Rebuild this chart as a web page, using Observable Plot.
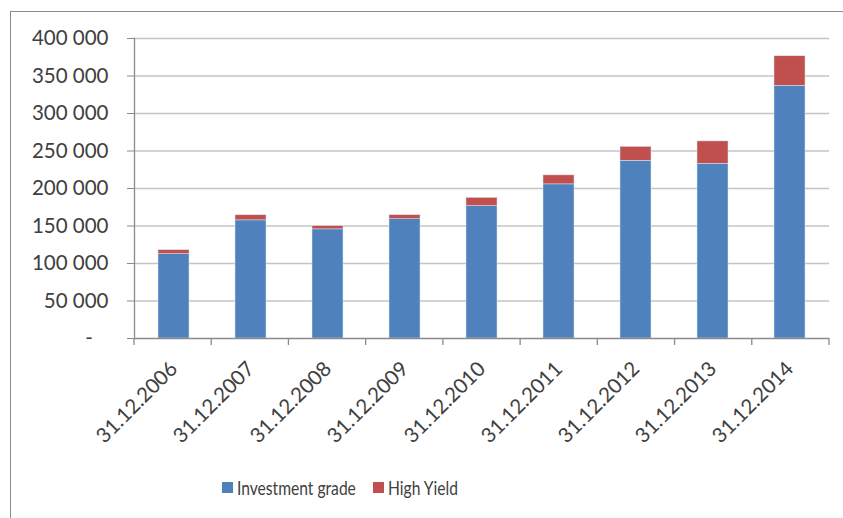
<!DOCTYPE html>
<html>
<head>
<meta charset="utf-8">
<script src="https://cdn.jsdelivr.net/npm/d3@7"></script>
<script src="https://cdn.jsdelivr.net/npm/@observablehq/plot@0.6"></script>
<style>
  body { margin: 0; background: #fff; }
  #wrap { position: relative; width: 843px; height: 518px; overflow: hidden; font-family: Lato, "Open Sans", sans-serif; color: #404040; }
  #frame { position: absolute; left: 10px; top: 11px; width: 900px; height: 600px; border-left: 1.5px solid #8a8a8a; border-top: 1.5px solid #8a8a8a; pointer-events: none; }
  #chart svg { display: block; }
  #legend { position: relative; height: 56px; font-size: 20px; }
  .item { position: absolute; top: 13px; display: flex; align-items: center; white-space: nowrap; }
  .sw { width: 11px; height: 11px; margin-right: 4px; }
  .lbl { display: inline-block; transform: scaleX(0.78); transform-origin: left center; }
</style>
</head>
<body>
<div id="wrap">
  <div id="chart"></div>
  <div id="legend"></div>
  <div id="frame"></div>
</div>
<script>
// ---- data ----
const dates = ["31.12.2006","31.12.2007","31.12.2008","31.12.2009","31.12.2010","31.12.2011","31.12.2012","31.12.2013","31.12.2014"];
const investmentGrade = [112500, 157500, 145500, 159000, 176500, 205500, 237000, 233000, 337000];
const highYield = [5300, 6800, 4300, 5400, 11000, 12000, 18500, 29800, 39300];
const seriesNames = ["Investment grade", "High Yield"];
const seriesColors = ["#4F81BD", "#C0504D"];
const yTicks = [0, 50000, 100000, 150000, 200000, 250000, 300000, 350000, 400000];

const rows = [];
dates.forEach((d, i) => {
  rows.push({date: d, series: seriesNames[0], value: investmentGrade[i]});
  rows.push({date: d, series: seriesNames[1], value: highYield[i]});
});

const fmt = d3.formatLocale({decimal: ",", thousands: " ", grouping: [3], currency: ["", ""]}).format(",d");
const yFormat = v => v === 0 ? "-\u00a0\u00a0\u00a0" : fmt(v);

const W = 843, H = 462, mL = 134, mR = 14, mT = 38, mB = 124;

// category boundary ticks below x axis
function boundaryTicks(index, scales, values, dims) {
  const b = d3.scaleBand().domain(dates).range([dims.marginLeft, dims.width - dims.marginRight]).padding(0);
  const y0 = scales.y(0);
  const g = d3.create("svg:g");
  const xs = dates.map(d => b(d)).concat([b(dates[dates.length - 1]) + b.step()]);
  g.selectAll("line").data(xs).join("line")
    .attr("x1", d => d).attr("x2", d => d)
    .attr("y1", y0).attr("y2", y0 + 7)
    .attr("stroke", "#8a8a8a").attr("stroke-width", 1.3);
  return g.node();
}

const chart = Plot.plot({
  width: W, height: H,
  marginLeft: mL, marginRight: mR, marginTop: mT, marginBottom: mB,
  style: {fontFamily: "Lato, 'Open Sans', sans-serif", fontSize: "20.5px", color: "#404040", background: "#fff"},
  x: {type: "band", domain: dates, paddingInner: 0.6, paddingOuter: 0.3, label: null},
  y: {domain: [0, 400000], label: null},
  color: {domain: seriesNames, range: seriesColors},
  marks: [
    Plot.ruleY(yTicks.filter(v => v > 0), {stroke: "#c4c4c4", strokeWidth: 1.5}),
    Plot.barY(rows, {x: "date", y: "value", fill: "series", stroke: "#dbe6f3", strokeWidth: 0.5}),
    Plot.ruleY([0], {stroke: "#8a8a8a", strokeWidth: 1.3}),
    Plot.frame({anchor: "left", stroke: "#8a8a8a", strokeWidth: 1.3}),
    Plot.axisY({ticks: yTicks, tickFormat: yFormat, tickSize: 7, tickPadding: 19, stroke: "#8a8a8a", label: null, fill: "#404040"}),
    Plot.axisX({tickSize: 0, tickRotate: -45, tickPadding: 27, dx: 0, label: null, fill: "#404040"}),
    boundaryTicks
  ]
});
document.getElementById("chart").appendChild(chart);

// legend
const legend = d3.select("#legend");
const lefts = [222, 373];
seriesNames.forEach((s, i) => {
  const it = legend.append("div").attr("class", "item").style("left", lefts[i] + "px");
  it.append("div").attr("class", "sw").style("background", seriesColors[i]);
  it.append("span").attr("class", "lbl").text(s);
});
</script>
</body>
</html>
